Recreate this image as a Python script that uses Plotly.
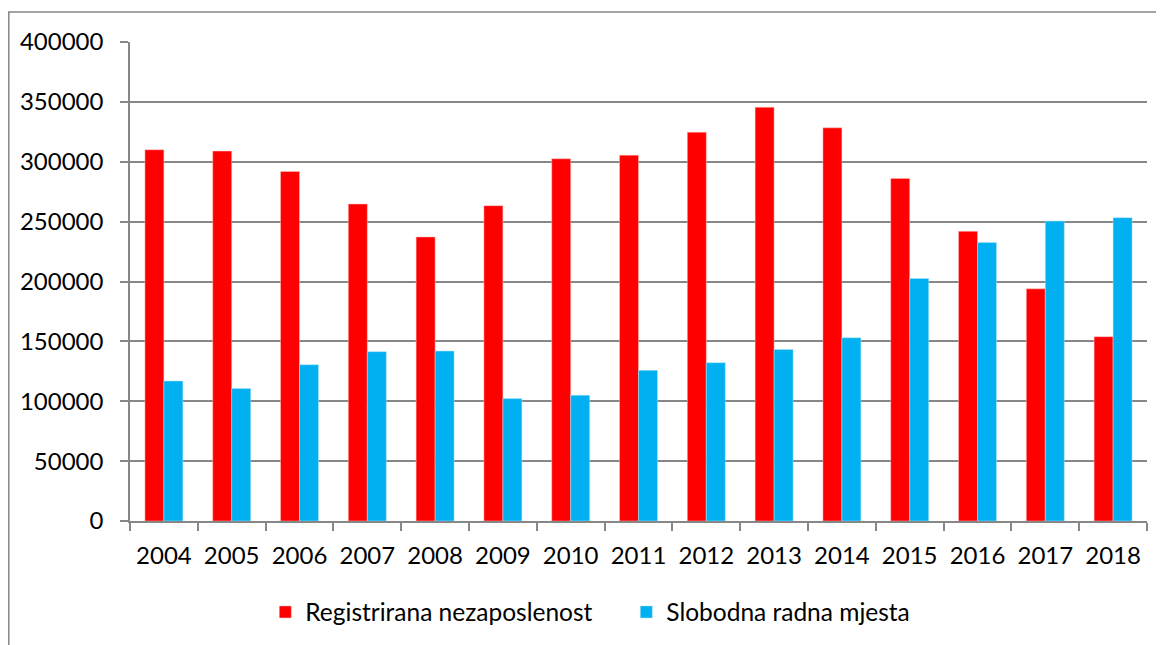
import plotly.graph_objects as go

years = ["2004", "2005", "2006", "2007", "2008", "2009", "2010", "2011",
         "2012", "2013", "2014", "2015", "2016", "2017", "2018"]
unemployment = [310000, 308900, 291900, 264700, 237200, 263300, 302500, 305500,
                324700, 345500, 328300, 286100, 241900, 193900, 153900]
vacancies = [116900, 110600, 130500, 141400, 141900, 102200, 105000, 125800,
             132200, 143300, 153000, 202500, 232500, 250500, 253300]
series_names = ["Registrirana nezaposlenost", "Slobodna radna mjesta"]
y_ticks = [0, 50000, 100000, 150000, 200000, 250000, 300000, 350000, 400000]

FONT = "Lato"
GRID = "#878787"

fig = go.Figure()
fig.add_trace(go.Bar(x=years, y=unemployment, name=series_names[0],
                     marker=dict(color="#FF0000", line=dict(color="rgba(255,200,200,0.8)", width=0.6))))
fig.add_trace(go.Bar(x=years, y=vacancies, name=series_names[1],
                     marker=dict(color="#00B0F0", line=dict(color="rgba(180,230,250,0.8)", width=0.6))))

fig.update_layout(
    width=1156, height=637,
    margin=dict(l=122, r=17, t=34, b=123),
    paper_bgcolor="white", plot_bgcolor="white",
    barmode="group", bargap=0.44, bargroupgap=0,
    font=dict(family=FONT, size=24, color="black"),
    showlegend=True,
    legend=dict(orientation="h", x=0.488, xanchor="center", y=-0.1875, yanchor="middle",
                font=dict(family=FONT, size=24.5, color="black"),
                itemwidth=30, tracegroupgap=0,
                entrywidth=316, entrywidthmode="pixels"),
    shapes=[dict(type="rect", xref="paper", yref="paper",
                 x0=-0.1192, x1=1.03, y0=-0.3, y1=1.0625,
                 line=dict(color=GRID, width=1.5), layer="below")],
)
fig.update_xaxes(
    type="category", showline=True, linecolor=GRID, linewidth=1.5,
    ticks="outside", ticklen=8, tickcolor=GRID, tickwidth=1.5,
    tickson="boundaries", showgrid=False,
    ticklabelstandoff=12,
    tickfont=dict(family=FONT, size=24, color="black"),
)
fig.update_yaxes(
    range=[0, 400000], tickvals=y_ticks, ticktext=[str(v) for v in y_ticks],
    showline=True, linecolor=GRID, linewidth=1.5,
    ticks="outside", ticklen=8, tickcolor=GRID, tickwidth=1.5,
    showgrid=True, gridcolor=GRID, gridwidth=1.5, zeroline=False,
    ticklabelstandoff=12,
    tickfont=dict(family=FONT, size=24, color="black"),
)

fig.write_html("out.html")
